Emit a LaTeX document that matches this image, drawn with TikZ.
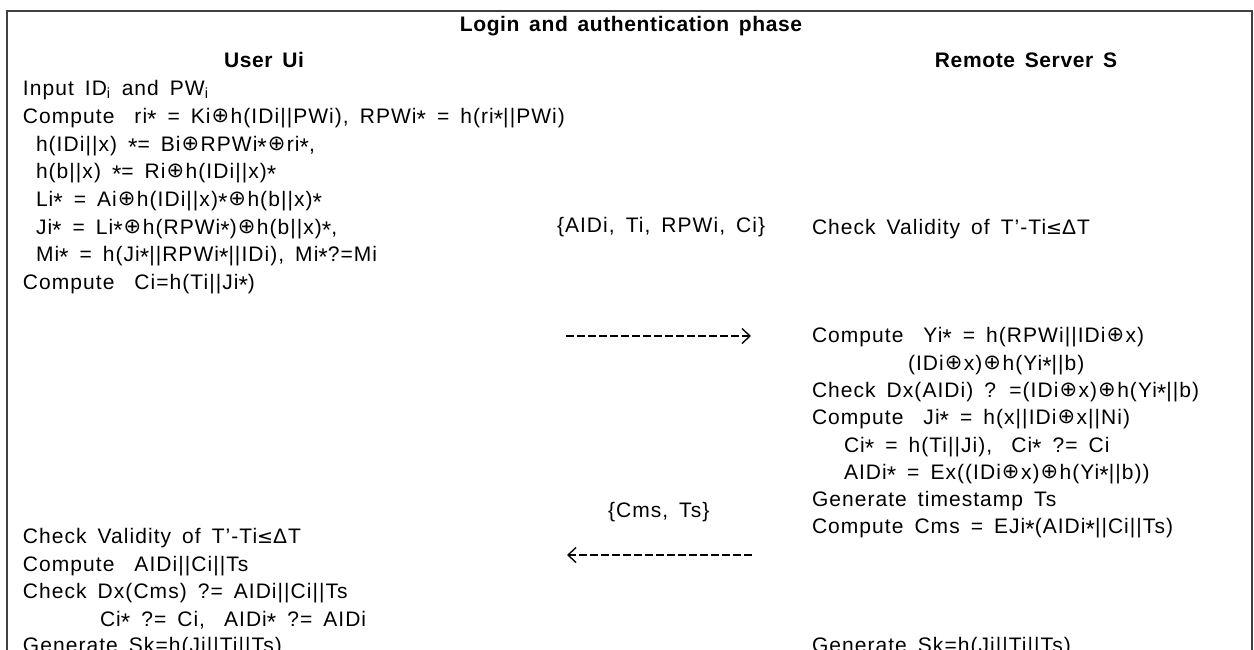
\documentclass[tikz,border=0pt]{standalone}
\usepackage{fontspec}
\setmainfont{Liberation Sans}[LetterSpace=5, WordSpace=1.6]
\newfontfamily\headfam{Liberation Sans}[LetterSpace=3, WordSpace=1.5]
\newfontfamily\symf{DejaVu Sans}
\usetikzlibrary{arrows.meta}
% symbols used in the protocol text
\newcommand\ox{\kern1pt{\symf\fontsize{21}{21}\selectfont\raisebox{0.3pt}{⊕}}\kern1.5pt}
\newcommand\st{\raisebox{-4.5pt}{\scalebox{1.15}{*}}}
\newcommand\leqs{{\symf\fontsize{19}{19}\selectfont ≤}}
\newcommand\bodyfont{\fontsize{21}{25}\selectfont}
\newcommand\headfont{\headfam\fontsize{21}{25}\selectfont\bfseries}
\newcommand\gap{\hspace{20pt}}
\tikzset{
  txt/.style={anchor=base west, inner sep=0pt, outer sep=0pt, font=\bodyfont},
  hd/.style={anchor=base, inner sep=0pt, outer sep=0pt, font=\headfont},
  frame/.style={draw=black!75, line width=2pt},
  msg/.style={line width=1.4pt, dash pattern=on 8pt off 3pt,
              -{Straight Barb[length=8pt,width=15pt,line width=1.4pt]}}
}
\begin{document}
\begin{tikzpicture}[x=1pt,y=-1pt]
\useasboundingbox (0,0) rectangle (1254,649);
% open frame (bottom edge runs off the page)
\draw[frame] (7,660) -- (7,11) -- (1252,11) -- (1252,660);

% headings
\node[hd] (title)  at (631,31) {Login and authentication phase};
\node[hd] (user)   at (264,67) {User Ui};
\node[hd] (server) at (1026,67) {Remote Server S};

% user side, login
\node[txt] (u1) at (23,95)   {Input ID\textsubscript{i} and PW\textsubscript{i}};
\node[txt] (u2) at (23,123)  {Compute\gap ri\st{} = Ki\ox h(IDi||PWi), RPWi\st{} = h(ri\st||PWi)};
\node[txt] (u3) at (36,151)  {h(IDi||x) \st= Bi\ox RPWi\st\ox ri\st,};
\node[txt] (u4) at (36,178)  {h(b||x) \st= Ri\ox h(IDi||x)\st};
\node[txt] (u5) at (36,206)  {Li\st{} = Ai\ox h(IDi||x)\st\ox h(b||x)\st};
\node[txt] (u6) at (36,234)  {Ji\st{} = Li\st\ox h(RPWi\st)\ox h(b||x)\st,};
\node[txt] (u7) at (36,261)  {Mi\st{} = h(Ji\st||RPWi\st||IDi), Mi\st?=Mi};
\node[txt] (u8) at (23,289)  {Compute\gap Ci=h(Ti||Ji\st)};

% user side, server reply
\node[txt] (u9)  at (23,543)  {Check Validity of T’-Ti\leqs ΔT};
\node[txt] (u10) at (23,571)  {Compute\gap AIDi||Ci||Ts};
\node[txt] (u11) at (23,598)  {Check Dx(Cms) ?= AIDi||Ci||Ts};
\node[txt] (u12) at (100,626) {Ci\st{} ?= Ci,\hspace{8pt} AIDi\st{} ?= AIDi};
\node[txt] (u13) at (23,652)  {Generate Sk=h(Ji||Ti||Ts)};

% messages
\node[txt] (m1) at (557,232) {\{AIDi, Ti, RPWi, Ci\}};
\node[txt] (m2) at (608,517) {\{Cms, Ts\}};
\coordinate (a1s) at (566,336);
\coordinate (a1e) at (751,336);
\coordinate (a2s) at (752,555);
\coordinate (a2e) at (567,555);
\draw[msg] (a1s) -- (a1e);
\draw[msg] (a2s) -- (a2e);

% server side
\node[txt] (s1)  at (812,234) {Check Validity of T’-Ti\leqs ΔT};
\node[txt] (s2)  at (812,342) {Compute\gap Yi\st{} = h(RPWi||IDi\ox x)};
\node[txt] (s3)  at (908,370) {(IDi\ox x)\ox h(Yi\st||b)};
\node[txt] (s4)  at (812,397) {Check Dx(AIDi) ? =(IDi\ox x)\ox h(Yi\st||b)};
\node[txt] (s5)  at (812,424) {Compute\gap Ji\st{} = h(x||IDi\ox x||Ni)};
\node[txt] (s6)  at (844,452) {Ci\st{} = h(Ti||Ji),\hspace{8pt} Ci\st{} ?= Ci};
\node[txt] (s7)  at (844,479) {AIDi\st{} = Ex((IDi\ox x)\ox h(Yi\st||b))};
\node[txt] (s8)  at (812,506) {Generate timestamp Ts};
\node[txt] (s9)  at (812,533) {Compute Cms = EJi\st(AIDi\st||Ci||Ts)};
\node[txt] (s10) at (812,652) {Generate Sk=h(Ji||Ti||Ts)};
\end{tikzpicture}
\end{document}
